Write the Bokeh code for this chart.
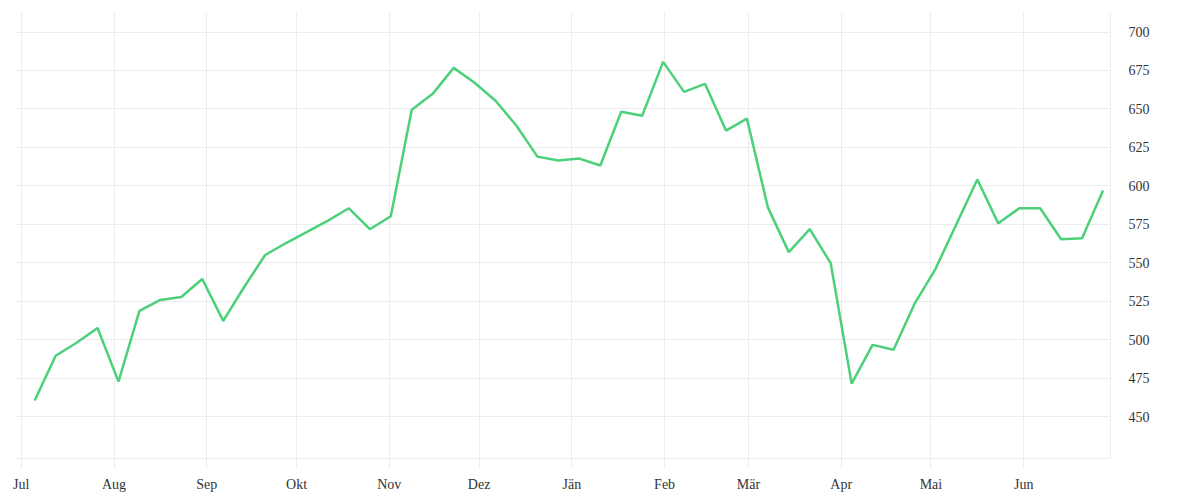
import pandas as pd
from bokeh.plotting import figure
from bokeh.models import ColumnDataSource, FixedTicker, Range1d
from bokeh.embed import file_html
from bokeh.resources import INLINE

# ---- data ----
start_date = "2022-07-05 12:00"
n_weeks = 52
values = [
    460.4, 489.5, 498.0, 507.6, 472.7, 518.7, 525.8, 527.7, 539.4, 512.2,
    534.2, 555.0, 562.8, 570.0, 577.4, 585.4, 571.8, 580.2, 649.5, 659.8,
    676.7, 667.0, 655.3, 639.1, 619.0, 616.4, 617.7, 613.2, 648.2, 645.6,
    680.6, 661.1, 666.3, 635.9, 643.7, 586.0, 556.9, 571.8, 549.7, 471.4,
    496.6, 493.4, 523.2, 545.9, 575.0, 604.1, 575.6, 585.4, 585.4, 565.3,
    565.9, 597.0,
]
month_starts = ["2022-07-01", "2022-08-01", "2022-09-01", "2022-10-01",
                "2022-11-01", "2022-12-01", "2023-01-01", "2023-02-01",
                "2023-03-01", "2023-04-01", "2023-05-01", "2023-06-01"]
month_labels = ["Jul", "Aug", "Sep", "Okt", "Nov", "Dez",
                "Jän", "Feb", "Mär", "Apr", "Mai", "Jun"]
y_ticks = [450, 475, 500, 525, 550, 575, 600, 625, 650, 675, 700]

dates = pd.date_range(start_date, periods=n_weeks, freq="7D")
src = ColumnDataSource(dict(date=dates, value=values))

def ms(s):
    return int(pd.Timestamp(s).value // 10**6)

tick_ms = [ms(s) for s in month_starts]

FONT = "Liberation Serif"
GRID = "#ececec"

p = figure(
    x_axis_type="datetime",
    y_axis_location="right",
    frame_width=1095, frame_height=446,
    min_border_left=15, min_border_top=12, min_border_right=30, min_border_bottom=0,
    output_backend="svg", toolbar_location=None,
    x_range=Range1d(ms("2022-06-29 02:00"), ms("2023-06-30 00:00")),
    y_range=Range1d(422.7, 712.7),
)
p.outline_line_color = None
p.background_fill_color = "white"
p.border_fill_color = "white"

p.line("date", "value", source=src, line_color="#4CD17A", line_width=2.5)

# x axis
xa = p.xaxis[0]
xa.ticker = FixedTicker(ticks=tick_ms)
xa.major_label_overrides = {t: lab for t, lab in zip(tick_ms, month_labels)}
xa.axis_line_color = GRID
xa.major_tick_line_color = GRID
xa.major_tick_in = 0
xa.major_tick_out = 10
xa.minor_tick_line_color = None
xa.major_label_standoff = 8
xa.major_label_text_font = FONT
xa.major_label_text_font_size = "14px"
xa.major_label_text_color = "#333333"

# y axis (right)
ya = p.yaxis[0]
ya.ticker = FixedTicker(ticks=y_ticks)
ya.axis_line_color = GRID
ya.major_tick_line_color = None
ya.minor_tick_line_color = None
ya.major_label_standoff = 12
ya.major_label_text_font = FONT
ya.major_label_text_font_size = "14px"
ya.major_label_text_color = "#333333"

p.xgrid.grid_line_color = GRID
p.ygrid.grid_line_color = GRID
p.xgrid.ticker = FixedTicker(ticks=tick_ms)
p.ygrid.ticker = FixedTicker(ticks=y_ticks)

open("out.html", "w").write(file_html(p, INLINE))
